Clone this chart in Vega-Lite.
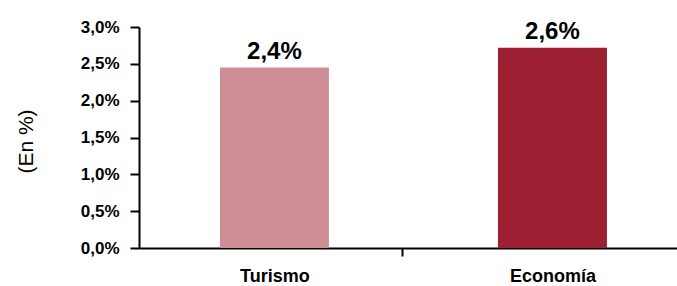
{
  "$schema": "https://vega.github.io/schema/vega-lite/v6.json",
  "autosize": "none",
  "width": 538,
  "height": 221,
  "padding": {"left": 139, "top": 27, "right": 0, "bottom": 38},
  "background": "white",
  "config": {"view": {"stroke": null}, "font": "Liberation Sans"},
  "data": {"values": [
    {"categoria": "Turismo", "valor": 2.45, "etiqueta": "2,4%"},
    {"categoria": "Economía", "valor": 2.72, "etiqueta": "2,6%"}
  ]},
  "encoding": {
    "x": {
      "field": "categoria", "type": "nominal", "sort": null,
      "scale": {"paddingInner": 0.608, "paddingOuter": 0.2716, "align": 0.536},
      "axis": {
        "title": null, "labelAngle": 0, "labelFont": "Liberation Sans", "labelFontWeight": "bold",
        "labelFontSize": 18, "labelColor": "black", "labelPadding": 25, "labelBaseline": "alphabetic",
        "domainColor": "black", "domainWidth": 2, "tickColor": "black", "tickWidth": 2,
        "tickSize": 8, "tickOffset": 128, "labelOffset": -128, "grid": false
      }
    },
    "y": {
      "field": "valor", "type": "quantitative",
      "scale": {"domain": [0, 3], "nice": false},
      "axis": {
        "values": [0, 0.5, 1, 1.5, 2, 2.5, 3],
        "labelExpr": "replace(format(datum.value, '.1f'), '.', ',') + '%'",
        "labelFont": "Liberation Sans", "labelFontWeight": "bold", "labelFontSize": 17,
        "labelColor": "black", "labelPadding": 11,
        "domainColor": "black", "domainWidth": 2, "tickColor": "black", "tickWidth": 2,
        "tickSize": 9, "grid": false,
        "title": "(En %)", "titleFont": "Liberation Sans", "titleFontWeight": "normal",
        "titleFontSize": 21, "titleColor": "black", "titleAngle": -90,
        "titleX": -113, "titleY": 114, "titleAlign": "center", "titleBaseline": "middle"
      }
    }
  },
  "layer": [
    {
      "mark": {"type": "bar"},
      "encoding": {
        "color": {
          "field": "categoria", "type": "nominal", "legend": null,
          "scale": {"domain": ["Turismo", "Economía"], "range": ["#CD8E96", "#9B1F31"]}
        }
      }
    },
    {
      "mark": {"type": "text", "baseline": "alphabetic", "dy": -9, "fontSize": 24, "fontWeight": "bold", "font": "Liberation Sans", "color": "black"},
      "encoding": {"text": {"field": "etiqueta"}}
    }
  ]
}
